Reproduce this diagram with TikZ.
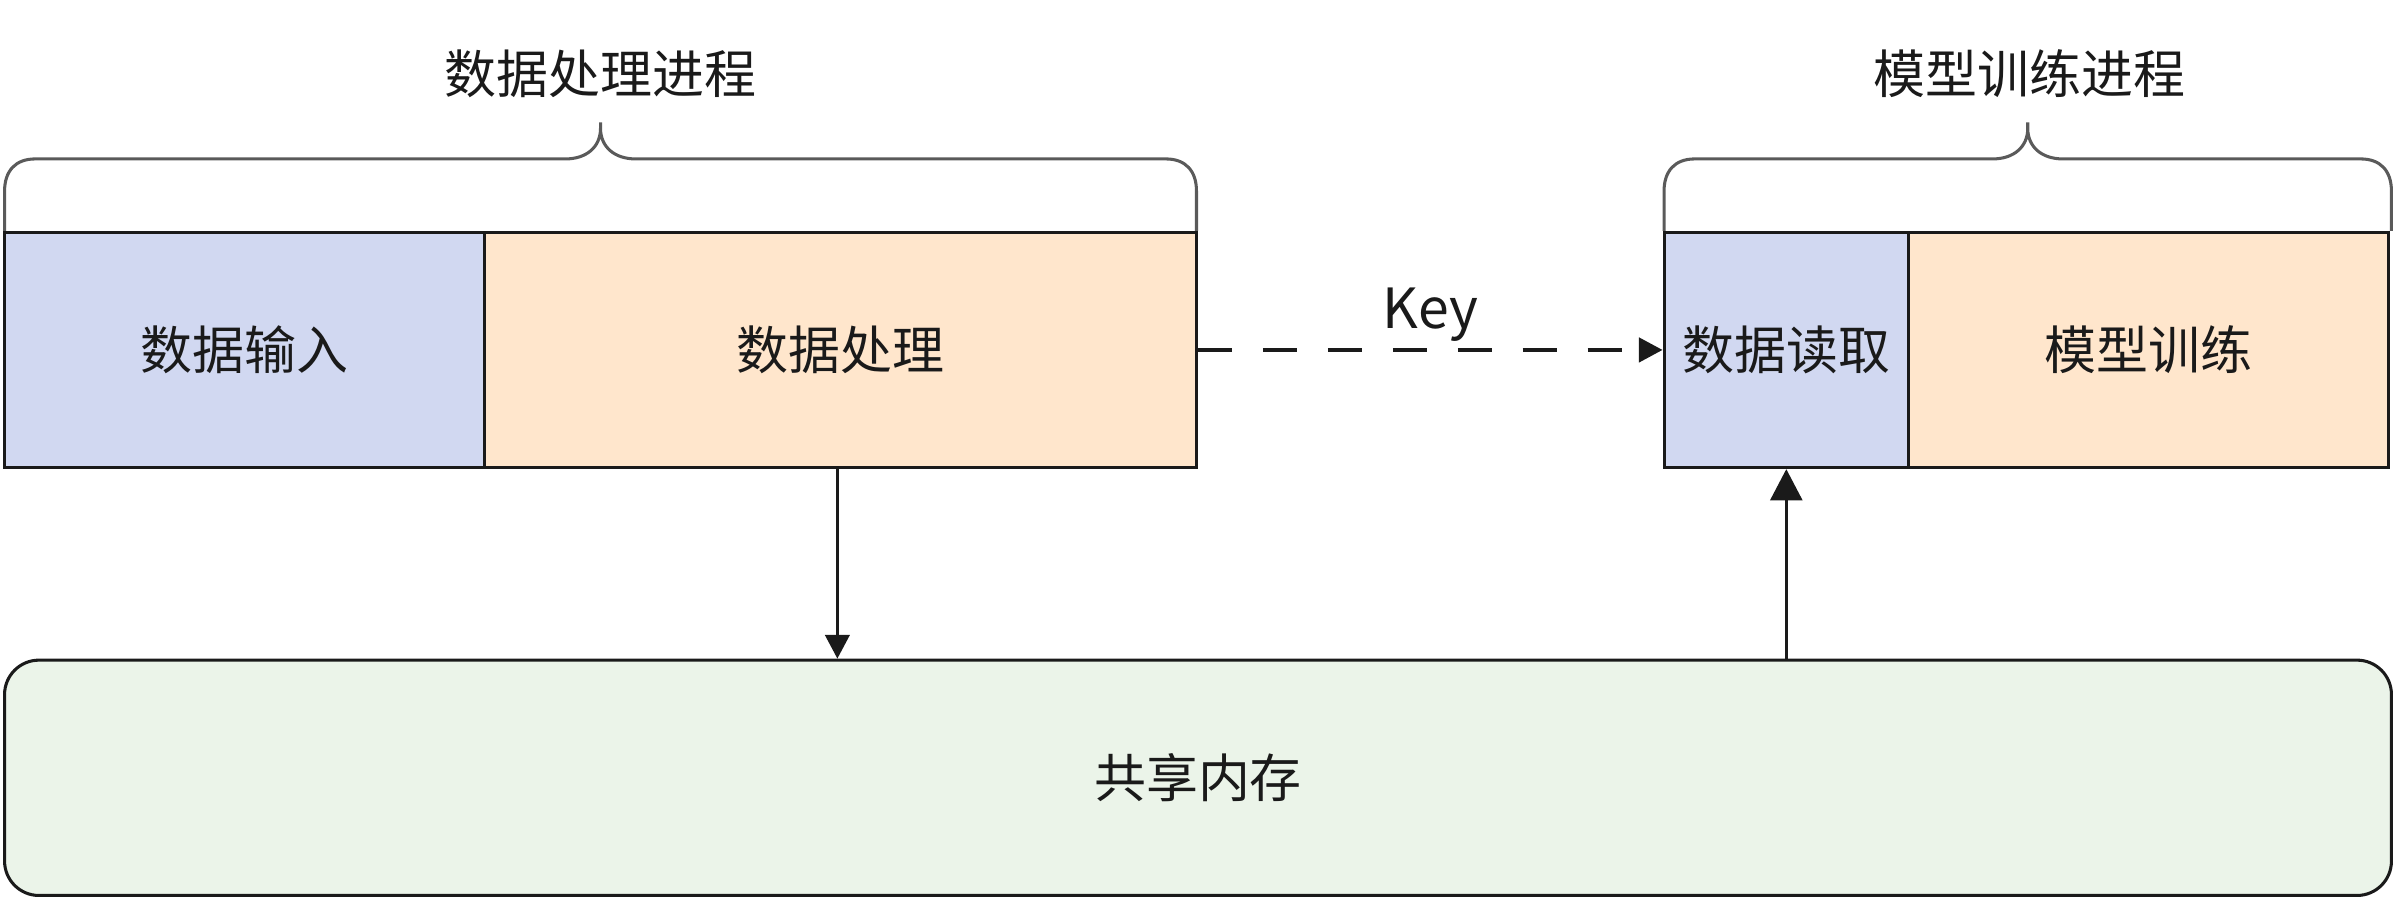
\documentclass[tikz,border=0pt]{standalone}
\usepackage{fontspec}
\newfontfamily\cjk{Noto Sans CJK SC}
\usetikzlibrary{arrows.meta}
\definecolor{bluefill}{HTML}{D1D8F1}
\definecolor{orangefill}{HTML}{FFE6CC}
\definecolor{greenfill}{HTML}{EBF4E9}
\definecolor{edge}{HTML}{1A1A1A}
\definecolor{bracecol}{HTML}{5A5A5A}
\tikzset{
  lbl/.style={font=\cjk\fontsize{13.6}{16}\selectfont, text=edge},
  box/.style={lbl, draw=edge, line width=0.8pt, inner sep=0pt, minimum height=61.6pt},
  bracepath/.style={draw=bracecol, line width=0.8pt, line join=round},
  conn/.style={draw=edge, line width=0.7pt},
  smalltip/.style={-{Triangle[length=6.2pt,width=6.4pt]}},
  bigtip/.style={-{Triangle[length=8.2pt,width=8.4pt]}}
}
\begin{document}
\begin{tikzpicture}[x=0.4pt,y=-0.4pt]
\useasboundingbox (0,0) rectangle (1568,589);
% boxes
\node[box, fill=bluefill, minimum width=125.6pt] (b1) at (160,229) {数据输入};
\node[box, fill=orangefill, minimum width=186.4pt] (b2) at (550,229) {数据处理};
\node[box, fill=bluefill, minimum width=64pt] (b3) at (1169,229) {数据读取};
\node[box, fill=orangefill, minimum width=125.6pt] (b4) at (1406,229) {模型训练};
\node[box, fill=greenfill, minimum width=624.8pt, rounded corners=9pt] (mem) at (784,509) {共享内存};
% titles
\node[lbl] (t1) at (393,48) {数据处理进程};
\node[lbl] (t2) at (1328,48) {模型训练进程};
% braces
\path[bracepath] (3,151) -- (3,125) .. controls (3,112) and (10,104) .. (23,104)
  -- (370,104) .. controls (384,104) and (393,96) .. (393,84) -- (393,80)
  (393,84) .. controls (393,96) and (402,104) .. (416,104)
  -- (763,104) .. controls (776,104) and (783,112) .. (783,125) -- (783,151);
\path[bracepath] (1089,151) -- (1089,125) .. controls (1089,112) and (1096,104) .. (1109,104)
  -- (1304,104) .. controls (1318,104) and (1327,96) .. (1327,84) -- (1327,80)
  (1327,84) .. controls (1327,96) and (1336,104) .. (1350,104)
  -- (1545,104) .. controls (1558,104) and (1565,112) .. (1565,125) -- (1565,151);
% connectors
\draw[conn, line width=0.9pt, smalltip, dash pattern=on 9pt off 8pt] (b2.east) -- (b3.west)
  node[midway, anchor=base, yshift=5.6pt, lbl, font=\cjk\fontsize{14.5}{16}\selectfont] (key) {Key};
\draw[conn, smalltip] (b2.south -| 548,0) -- (mem.north -| 548,0);
\draw[conn, bigtip] (mem.north -| b3.south) -- (b3.south);
\end{tikzpicture}
\end{document}
